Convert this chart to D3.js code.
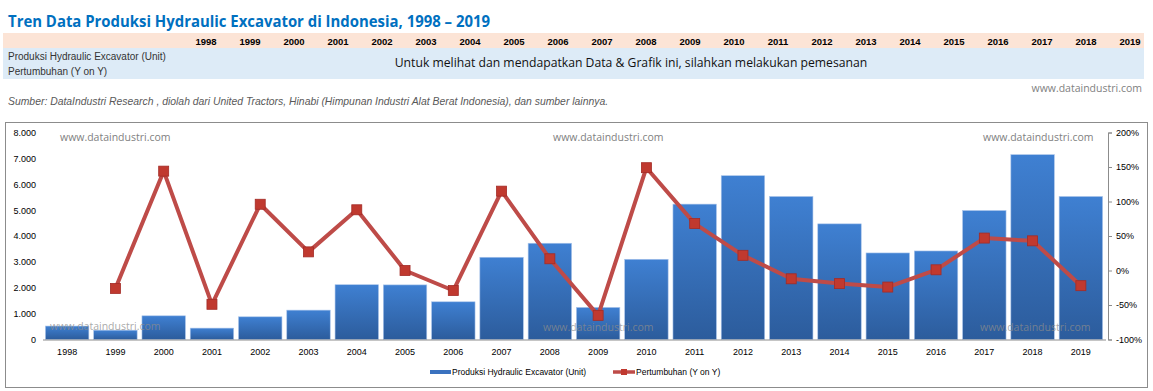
<!DOCTYPE html>
<html>
<head>
<meta charset="utf-8">
<script src="https://cdn.jsdelivr.net/npm/d3@7"></script>
<style>
  html, body { margin: 0; padding: 0; background: #ffffff; }
  svg { display: block; }
</style>
</head>
<body>
<svg id="chart" width="1153" height="391"></svg>
<script>
const years = ["1998","1999","2000","2001","2002","2003","2004","2005","2006","2007","2008","2009","2010","2011","2012","2013","2014","2015","2016","2017","2018","2019"];
const produksi = [520, 360, 915, 440, 877, 1135, 2117, 2110, 1457, 3178, 3720, 1240, 3100, 5232, 6330, 5527, 4469, 3345, 3422, 4984, 7143, 5527];
const pertumbuhan = [null, -26, 144, -49, 96, 27, 88, 0, -29, 115, 17, -65, 149, 68, 22, -12, -19, -24, 1, 47, 43, -22];
const leftTicks = [0, 1000, 2000, 3000, 4000, 5000, 6000, 7000, 8000];
const rightTicks = [-100, -50, 0, 50, 100, 150, 200];

const svg = d3.select("#chart");
const defs = svg.append("defs");
const grad = defs.append("linearGradient").attr("id", "barGrad").attr("x1", 0).attr("y1", 0).attr("x2", 0).attr("y2", 1);
grad.append("stop").attr("offset", "0%").attr("stop-color", "#3F80D2");
grad.append("stop").attr("offset", "100%").attr("stop-color", "#2C5C9C");

// Title
svg.append("text").attr("x", 8).attr("y", 27)
  .attr("font-family", "'Open Sans', sans-serif").attr("font-weight", "bold").attr("font-size", 16)
  .attr("textLength", 482).attr("lengthAdjust", "spacingAndGlyphs")
  .attr("fill", "#0070C0").text("Tren Data Produksi Hydraulic Excavator di Indonesia, 1998 – 2019");

// Header table
svg.append("rect").attr("x", 3).attr("y", 33).attr("width", 1141).attr("height", 15).attr("fill", "#FCE4D6");
svg.append("rect").attr("x", 3).attr("y", 48).attr("width", 1141).attr("height", 31).attr("fill", "#DDEBF7");
const hx = d3.scalePoint().domain(years).range([206, 1130]);
svg.append("g").selectAll("text").data(years).join("text")
  .attr("x", d => hx(d)).attr("y", 45).attr("text-anchor", "middle")
  .attr("font-family", "'Liberation Sans', Arial, sans-serif").attr("font-weight", "bold").attr("font-size", 9.5)
  .attr("fill", "#000").text(d => d);
svg.append("text").attr("x", 8).attr("y", 60).attr("font-family", "'Liberation Sans', Arial, sans-serif")
  .attr("font-size", 10).attr("fill", "#333").text("Produksi Hydraulic Excavator (Unit)");
svg.append("text").attr("x", 8).attr("y", 75).attr("font-family", "'Liberation Sans', Arial, sans-serif")
  .attr("font-size", 10).attr("fill", "#333").text("Pertumbuhan (Y on Y)");
svg.append("text").attr("x", 631).attr("y", 67).attr("text-anchor", "middle")
  .attr("font-family", "'Open Sans', sans-serif").attr("font-size", 12.2).attr("fill", "#111")
  .text("Untuk melihat dan mendapatkan Data & Grafik ini, silahkan melakukan pemesanan");
svg.append("text").attr("x", 1142).attr("y", 92).attr("text-anchor", "end")
  .attr("font-family", "'Open Sans', sans-serif").attr("font-size", 10.5).attr("fill", "#7F7F7F")
  .text("www.dataindustri.com");
svg.append("text").attr("x", 8).attr("y", 105)
  .attr("font-family", "'Liberation Sans', Arial, sans-serif").attr("font-style", "italic").attr("font-size", 10.4)
  .attr("fill", "#595959")
  .text("Sumber: DataIndustri Research , diolah dari United Tractors, Hinabi (Himpunan Industri Alat Berat Indonesia), dan sumber lainnya.");

// Chart box
svg.append("rect").attr("x", 5.5).attr("y", 122.5).attr("width", 1142).attr("height", 265)
  .attr("fill", "#fff").attr("stroke", "#8C8C8C").attr("stroke-width", 1);

const x = d3.scaleBand().domain(years).range([43, 1105]).paddingInner(0.1).paddingOuter(0.05);
const yL = d3.scaleLinear().domain([0, 8000]).range([339.5, 132.5]);
const yR = d3.scaleLinear().domain([-100, 200]).range([339.5, 132.5]);

const fmt = d => d3.format(",")(d).replace(/,/g, ".");
const axisFont = "'Liberation Sans', Arial, sans-serif";

// Left axis labels
const gl = svg.append("g").attr("transform", "translate(36,0)")
  .call(d3.axisLeft(yL).tickValues(leftTicks).tickSize(0).tickPadding(0).tickFormat(fmt));
gl.select(".domain").remove();
gl.selectAll("text").attr("font-family", axisFont).attr("font-size", 9).attr("fill", "#000");

// Watermarks (top)
const wmFont = "'Open Sans', sans-serif";
[[60, 141], [553, 141], [983, 141]].forEach(p => {
  svg.append("text").attr("x", p[0]).attr("y", p[1]).attr("font-family", wmFont).attr("font-size", 10.5)
    .attr("fill", "#7F7F7F").text("www.dataindustri.com");
});

// Bars
svg.append("g").selectAll("rect").data(years).join("rect")
  .attr("x", d => x(d)).attr("width", x.bandwidth())
  .attr("y", (d, i) => yL(produksi[i])).attr("height", (d, i) => yL(0) - yL(produksi[i]))
  .attr("fill", "url(#barGrad)").attr("stroke", "#A9C4EA").attr("stroke-width", 0.6);

// Bottom axis
const gb = svg.append("g").attr("transform", "translate(0,340)")
  .call(d3.axisBottom(x).tickSize(0).tickPadding(9));
gb.select(".domain").attr("stroke", "#8C8C8C").attr("d", "M43,0H1106");
gb.selectAll("text").attr("font-family", axisFont).attr("font-size", 9).attr("fill", "#000");

// Right axis
const gr = svg.append("g").attr("transform", "translate(1108,0)")
  .call(d3.axisRight(yR).tickValues(rightTicks).tickSize(4).tickPadding(4).tickFormat(d => d + "%"));
gr.select(".domain").attr("stroke", "#8C8C8C");
gr.selectAll(".tick line").attr("stroke", "#8C8C8C");
gr.selectAll("text").attr("font-family", axisFont).attr("font-size", 9).attr("fill", "#000");

// Watermarks (bottom, over bars)
[[50, 330], [543, 331], [980, 331]].forEach(p => {
  svg.append("text").attr("x", p[0]).attr("y", p[1]).attr("font-family", wmFont).attr("font-size", 10.5)
    .attr("fill", "#8C8C8C").attr("fill-opacity", 0.75).text("www.dataindustri.com");
});

// Line
const pts = years.map((d, i) => ({ d, v: pertumbuhan[i] })).filter(p => p.v !== null);
const line = d3.line().x(p => x(p.d) + x.bandwidth() / 2).y(p => yR(p.v));
svg.append("path").datum(pts).attr("d", line).attr("fill", "none")
  .attr("stroke", "#BE4B48").attr("stroke-width", 4).attr("stroke-linejoin", "round");
svg.append("g").selectAll("rect").data(pts).join("rect")
  .attr("x", p => x(p.d) + x.bandwidth() / 2 - 5).attr("y", p => yR(p.v) - 5)
  .attr("width", 10).attr("height", 10).attr("fill", "#C0392F").attr("stroke", "#A32B26").attr("stroke-width", 0.8);

// Legend
const lg = svg.append("g");
lg.append("rect").attr("x", 430).attr("y", 370).attr("width", 21).attr("height", 4).attr("fill", "#3A72BF");
lg.append("text").attr("x", 452).attr("y", 375).attr("font-family", axisFont).attr("font-size", 8.5)
  .attr("fill", "#000").text("Produksi Hydraulic Excavator (Unit)");
lg.append("line").attr("x1", 613).attr("x2", 635).attr("y1", 372).attr("y2", 372)
  .attr("stroke", "#BE4B48").attr("stroke-width", 3.5);
lg.append("rect").attr("x", 621).attr("y", 369).attr("width", 6).attr("height", 6).attr("fill", "#C0392F");
lg.append("text").attr("x", 636).attr("y", 375).attr("font-family", axisFont).attr("font-size", 8.5)
  .attr("fill", "#000").text("Pertumbuhan (Y on Y)");
</script>
</body>
</html>
